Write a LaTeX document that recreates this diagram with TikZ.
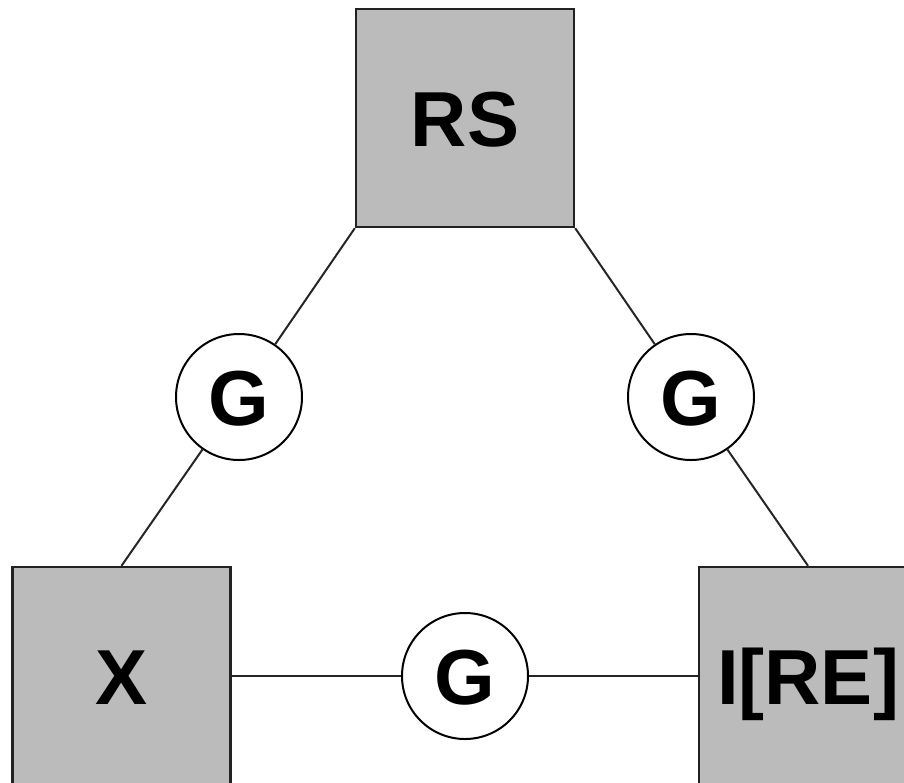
\documentclass[tikz,border=0pt]{standalone}
\usepackage{fontspec}
\setmainfont{Liberation Sans}
\definecolor{boxgray}{HTML}{BBBBBB}
\definecolor{edgegray}{HTML}{222222}
\begin{document}
\begin{tikzpicture}[x=1pt,y=-1pt,
  lbl/.style={font=\fontsize{78}{80}\selectfont\bfseries, text height=56pt, text depth=0pt, inner sep=0pt},
  squarebox/.style={lbl, draw=edgegray, line width=2.4pt, fill=boxgray, minimum width=218pt, minimum height=218pt},
  gnode/.style={lbl, circle, draw=black, line width=2pt, fill=white, minimum size=126pt},
  link/.style={draw=black!85, line width=2pt}]
\useasboundingbox (0,0) rectangle (904,782);
\clip (0,0) rectangle (904,782);
\node[squarebox] (rs) at (465,118) {RS};
\node[squarebox] (x) at (121.5,676) {X};
\node[squarebox] (ire) at (808,676) {I[RE]};
\node[gnode] (g1) at (239,397) {G};
\node[gnode] (g2) at (691,397) {G};
\node[gnode] (g3) at (465,676) {G};
\draw[link] (rs.south west) -- (g1);
\draw[link] (g1) -- (x.north);
\draw[link] (rs.south east) -- (g2);
\draw[link] (g2) -- (ire.north);
\draw[link] (x.east) -- (g3);
\draw[link] (g3) -- (ire.west);
\end{tikzpicture}
\end{document}
